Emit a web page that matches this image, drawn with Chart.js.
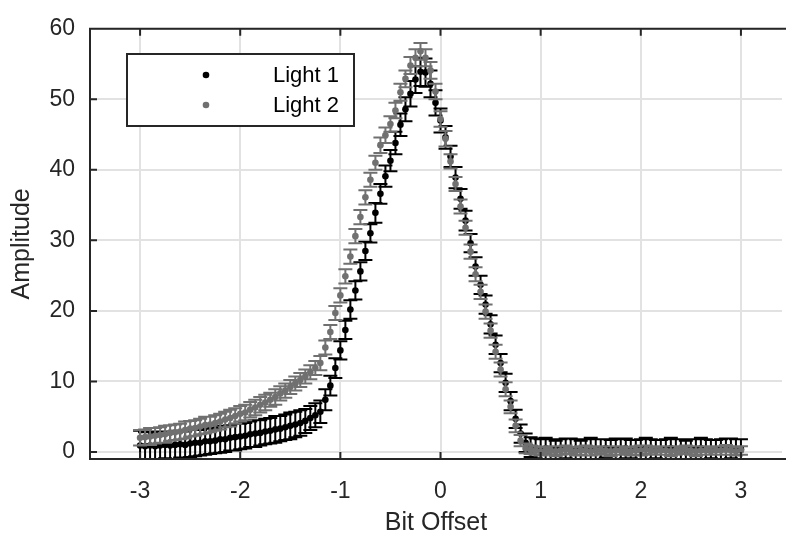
<!DOCTYPE html>
<html>
<head>
<meta charset="utf-8">
<script src="https://cdn.jsdelivr.net/npm/chart.js@4.4.1/dist/chart.umd.min.js"></script>
<style>
  html, body { margin: 0; padding: 0; background: #fff; overflow: hidden; }
</style>
</head>
<body>
<canvas id="chart" width="786" height="539"></canvas>
<script>
const xValues = [
  -3, -2.95, -2.9, -2.85, -2.8, -2.75, -2.7, -2.65, -2.6, -2.55,
  -2.5, -2.45, -2.4, -2.35, -2.3, -2.25, -2.2, -2.15, -2.1, -2.05,
  -2, -1.95, -1.9, -1.85, -1.8, -1.75, -1.7, -1.65, -1.6, -1.55,
  -1.5, -1.45, -1.4, -1.35, -1.3, -1.25, -1.2, -1.15, -1.1, -1.05,
  -1, -0.95, -0.9, -0.85, -0.8, -0.75, -0.7, -0.65, -0.6, -0.55,
  -0.5, -0.45, -0.4, -0.35, -0.3, -0.25, -0.2, -0.15, -0.1, -0.05,
  0, 0.05, 0.1, 0.15, 0.2, 0.25, 0.3, 0.35, 0.4, 0.45,
  0.5, 0.55, 0.6, 0.65, 0.7, 0.75, 0.8, 0.85, 0.9, 0.95,
  1, 1.05, 1.1, 1.15, 1.2, 1.25, 1.3, 1.35, 1.4, 1.45,
  1.5, 1.55, 1.6, 1.65, 1.7, 1.75, 1.8, 1.85, 1.9, 1.95,
  2, 2.05, 2.1, 2.15, 2.2, 2.25, 2.3, 2.35, 2.4, 2.45,
  2.5, 2.55, 2.6, 2.65, 2.7, 2.75, 2.8, 2.85, 2.9, 2.95,
  3
];

const light1 = [
  0.9, 0.8, 0.9, 0.8, 0.9, 1.0, 0.9, 1.0, 1.1, 1.0,
  1.2, 1.3, 1.3, 1.5, 1.5, 1.6, 1.8, 1.8, 2.0, 2.1,
  2.2, 2.3, 2.5, 2.6, 2.7, 2.9, 3.0, 3.2, 3.3, 3.5,
  3.7, 3.9, 4.1, 4.4, 4.8, 5.2, 5.7, 7.4, 9.4, 11.9,
  14.4, 17.3, 20.2, 22.9, 25.6, 28.5, 31.0, 33.9, 36.6, 39.1,
  41.3, 43.8, 46.4, 48.6, 50.8, 52.8, 53.9, 53.8, 52.2, 49.5,
  47.0, 44.6, 41.9, 38.9, 35.9, 32.8, 29.6, 26.3, 23.7, 20.9,
  18.1, 15.2, 12.6, 9.8, 7.2, 4.7, 2.6, 1.3, 0.7, 0.5,
  0.4, 0.5, 0.4, 0.3, 0.4, 0.5, 0.4, 0.4, 0.3, 0.4,
  0.5, 0.4, 0.4, 0.5, 0.3, 0.4, 0.4, 0.5, 0.4, 0.3,
  0.4, 0.5, 0.4, 0.4, 0.3, 0.4, 0.5, 0.4, 0.4, 0.3,
  0.4, 0.4, 0.5, 0.4, 0.4, 0.3, 0.4, 0.4, 0.5, 0.4,
  0.4
];

const light1Err = [
  2.1, 2.0, 2.0, 1.9, 2.0, 1.9, 1.9, 2.0, 1.9, 1.9,
  1.9, 1.9, 1.8, 1.9, 1.8, 1.8, 1.9, 1.8, 1.8, 1.9,
  1.8, 1.8, 1.8, 1.9, 1.8, 1.8, 1.8, 1.9, 1.8, 1.8,
  1.9, 1.8, 1.8, 1.7, 1.7, 1.7, 1.6, 1.5, 1.4, 1.4,
  1.3, 1.3, 1.3, 1.3, 1.3, 1.3, 1.3, 1.4, 1.4, 1.5,
  1.5, 1.6, 1.6, 1.7, 1.8, 1.9, 2.0, 2.0, 1.9, 1.8,
  1.7, 1.6, 1.5, 1.5, 1.4, 1.4, 1.3, 1.3, 1.3, 1.3,
  1.3, 1.3, 1.3, 1.3, 1.3, 1.3, 1.3, 1.3, 1.4, 1.4,
  1.4, 1.5, 1.4, 1.3, 1.4, 1.4, 1.5, 1.4, 1.3, 1.4,
  1.5, 1.4, 1.4, 1.3, 1.4, 1.5, 1.4, 1.4, 1.3, 1.4,
  1.4, 1.5, 1.4, 1.3, 1.4, 1.4, 1.5, 1.4, 1.4, 1.3,
  1.4, 1.4, 1.5, 1.4, 1.3, 1.4, 1.4, 1.5, 1.4, 1.4,
  1.4
];

const light2 = [
  2.0, 2.1, 2.2, 2.3, 2.4, 2.5, 2.7, 2.8, 2.9, 3.1,
  3.3, 3.4, 3.6, 3.8, 3.9, 4.1, 4.3, 4.6, 4.8, 5.1,
  5.4, 5.6, 6.0, 6.3, 6.7, 7.0, 7.4, 7.8, 8.3, 8.7,
  9.2, 9.7, 10.2, 10.7, 11.3, 11.9, 12.6, 14.8, 17.0, 19.7,
  22.2, 24.9, 27.7, 30.6, 33.3, 36.1, 38.6, 41.0, 43.5, 44.9,
  46.5, 48.4, 51.0, 52.9, 54.8, 55.9, 56.8, 55.9, 54.1, 51.1,
  47.2, 44.4, 41.2, 38.0, 34.8, 31.8, 28.4, 25.2, 22.7, 19.9,
  17.2, 14.2, 11.7, 8.9, 6.4, 3.7, 1.6, 0.5, 0.3, 0.2,
  0.1, 0.2, 0.2, 0.1, 0.2, 0.3, 0.2, 0.1, 0.2, 0.2,
  0.1, 0.2, 0.3, 0.2, 0.1, 0.2, 0.2, 0.2, 0.1, 0.2,
  0.2, 0.3, 0.2, 0.1, 0.2, 0.2, 0.1, 0.2, 0.2, 0.3,
  0.2, 0.1, 0.2, 0.2, 0.1, 0.2, 0.2, 0.3, 0.2, 0.1,
  0.2
];

const light2Err = [
  1.1, 1.1, 1.2, 1.1, 1.1, 1.2, 1.1, 1.1, 1.1, 1.2,
  1.1, 1.1, 1.1, 1.2, 1.1, 1.1, 1.1, 1.1, 1.2, 1.1,
  1.1, 1.1, 1.1, 1.1, 1.1, 1.1, 1.0, 1.1, 1.0, 1.0,
  1.0, 1.0, 1.0, 1.0, 1.0, 1.0, 1.0, 1.0, 1.0, 1.0,
  1.0, 1.0, 1.0, 1.0, 1.0, 1.0, 1.0, 1.0, 1.1, 1.1,
  1.1, 1.1, 1.2, 1.2, 1.2, 1.2, 1.2, 1.2, 1.2, 1.1,
  1.1, 1.1, 1.0, 1.0, 1.0, 1.0, 1.0, 1.0, 1.0, 1.0,
  1.0, 1.0, 1.0, 1.0, 0.9, 0.9, 0.8, 0.7, 0.6, 0.6,
  0.6, 0.5, 0.6, 0.7, 0.6, 0.6, 0.5, 0.6, 0.6, 0.7,
  0.6, 0.6, 0.5, 0.6, 0.7, 0.6, 0.6, 0.5, 0.6, 0.6,
  0.7, 0.6, 0.6, 0.5, 0.6, 0.6, 0.7, 0.6, 0.5, 0.6,
  0.6, 0.7, 0.6, 0.6, 0.5, 0.6, 0.6, 0.7, 0.6, 0.6,
  0.6
];

const xTicks = [-3, -2, -1, 0, 1, 2, 3];
const yTicks = [0, 10, 20, 30, 40, 50, 60];

const axisColor = '#262626';
const fontFamily = '"Liberation Sans", Arial, Helvetica, sans-serif';

// error bars, drawn under each dataset's own markers
const errorBars = {
  id: 'errorBars',
  beforeDatasetDraw(chart, args) {
    const ds = chart.data.datasets[args.index];
    if (!ds.errors) return;
    const xs = chart.scales.x, ys = chart.scales.y, ctx = chart.ctx, a = chart.chartArea;
    ctx.save();
    ctx.beginPath();
    ctx.rect(a.left, a.top, a.right - a.left, a.bottom - a.top);
    ctx.clip();
    ctx.strokeStyle = ds.backgroundColor;
    ctx.lineWidth = 2;
    ctx.beginPath();
    ds.data.forEach((p, i) => {
      const px = xs.getPixelForValue(p.x);
      const top = ys.getPixelForValue(p.y + ds.errors[i]);
      const bot = ys.getPixelForValue(p.y - ds.errors[i]);
      ctx.moveTo(px, top); ctx.lineTo(px, bot);
      ctx.moveTo(px - 7, top); ctx.lineTo(px + 7, top);
      ctx.moveTo(px - 7, bot); ctx.lineTo(px + 7, bot);
    });
    ctx.stroke();
    ctx.restore();
  }
};

// axes lines (right side runs off the page) with inward ticks
const axesBox = {
  id: 'axesBox',
  afterDatasetsDraw(chart) {
    const ctx = chart.ctx, a = chart.chartArea;
    const xs = chart.scales.x, ys = chart.scales.y;
    ctx.save();
    ctx.strokeStyle = axisColor;
    ctx.lineWidth = 2;
    ctx.beginPath();
    ctx.moveTo(a.right + 10, a.top); ctx.lineTo(a.left, a.top);
    ctx.lineTo(a.left, a.bottom); ctx.lineTo(a.right + 10, a.bottom);
    xTicks.forEach(v => {
      const px = xs.getPixelForValue(v);
      ctx.moveTo(px, a.bottom); ctx.lineTo(px, a.bottom - 7);
      ctx.moveTo(px, a.top); ctx.lineTo(px, a.top + 7);
    });
    yTicks.forEach(v => {
      const py = ys.getPixelForValue(v);
      ctx.moveTo(a.left, py); ctx.lineTo(a.left + 7, py);
    });
    ctx.stroke();
    ctx.restore();
  }
};

// legend box inside the plot
const boxLegend = {
  id: 'boxLegend',
  afterDraw(chart) {
    const ctx = chart.ctx;
    ctx.save();
    ctx.fillStyle = '#fff';
    ctx.fillRect(127, 54, 227, 72);
    ctx.strokeStyle = axisColor;
    ctx.lineWidth = 2;
    ctx.strokeRect(127, 54, 227, 72);
    ctx.font = '22px ' + fontFamily;
    ctx.textAlign = 'right';
    ctx.textBaseline = 'middle';
    chart.data.datasets.forEach((ds, i) => {
      const yy = 75 + i * 30;
      ctx.fillStyle = ds.backgroundColor;
      ctx.beginPath();
      ctx.arc(206, yy, 3.3, 0, Math.PI * 2);
      ctx.fill();
      ctx.fillStyle = '#000';
      ctx.fillText(ds.label, 339, yy + 1);
    });
    ctx.restore();
  }
};

new Chart(document.getElementById('chart'), {
  type: 'scatter',
  data: {
    datasets: [{
      label: 'Light 1',
      data: xValues.map((x, i) => ({x: x, y: light1[i]})),
      errors: light1Err,
      backgroundColor: '#000000',
      borderWidth: 0,
      pointRadius: 3.3,
      order: 1
    }, {
      label: 'Light 2',
      data: xValues.map((x, i) => ({x: x, y: light2[i]})),
      errors: light2Err,
      backgroundColor: '#707070',
      borderWidth: 0,
      pointRadius: 3.3,
      order: 0
    }]
  },
  options: {
    responsive: false,
    animation: false,
    layout: { padding: { left: 0, top: 15, right: 0, bottom: 0 } },
    plugins: {
      legend: { display: false },
      tooltip: { enabled: false }
    },
    scales: {
      x: {
        type: 'linear',
        min: -3.5,
        max: 3.41,
        afterBuildTicks: s => { s.ticks = xTicks.map(v => ({value: v})); },
        afterFit: s => { s.height = 80; },
        grid: { color: '#e2e2e2', lineWidth: 2, drawTicks: false },
        border: { display: false },
        ticks: { padding: 19, color: axisColor, font: { family: fontFamily, size: 23 } },
        title: {
          display: true,
          text: 'Bit Offset',
          color: axisColor,
          font: { family: fontFamily, size: 25 },
          padding: { top: 0, bottom: 1 }
        }
      },
      y: {
        min: -1,
        max: 60,
        afterBuildTicks: s => { s.ticks = yTicks.map(v => ({value: v})); },
        afterFit: s => { s.width = 90; },
        grid: { color: '#e2e2e2', lineWidth: 2, drawTicks: false },
        border: { display: false },
        ticks: { padding: 15, color: axisColor, font: { family: fontFamily, size: 23 } },
        title: {
          display: true,
          text: 'Amplitude',
          color: axisColor,
          font: { family: fontFamily, size: 25 },
          padding: { top: 7, bottom: 0 }
        }
      }
    }
  },
  plugins: [errorBars, axesBox, boxLegend]
});
</script>
</body>
</html>
